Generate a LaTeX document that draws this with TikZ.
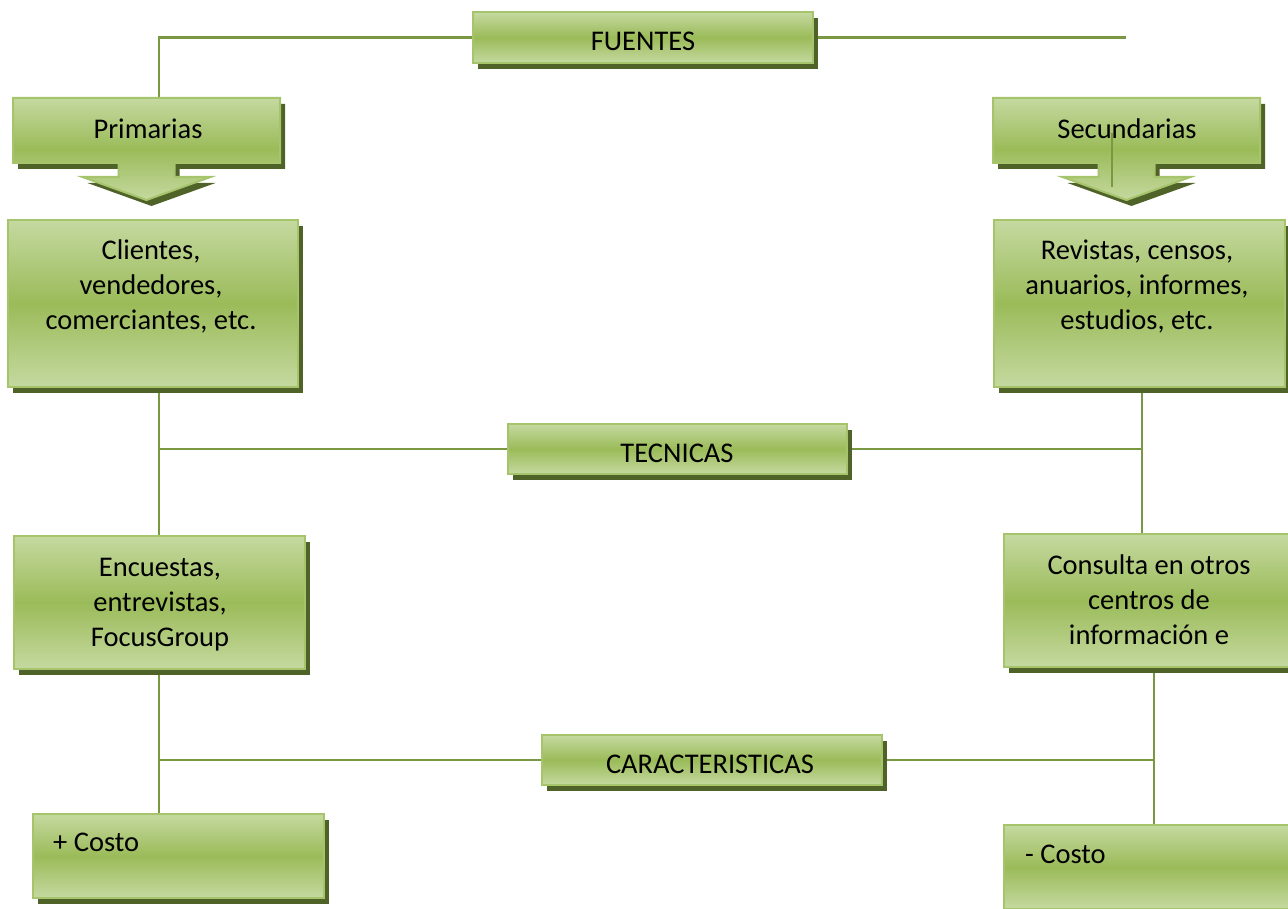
\documentclass[tikz,border=0pt]{standalone}
\usepackage{fontspec}
\setmainfont{Carlito}
\usetikzlibrary{shadows,backgrounds,calc}
\definecolor{gtop}{RGB}{197,217,160}
\definecolor{gmid}{RGB}{155,187,89}
\definecolor{bord}{RGB}{166,196,108}
\definecolor{shcol}{RGB}{79,98,40}
\definecolor{linecol}{RGB}{122,152,66}
\begin{document}
\begin{tikzpicture}[x=1pt,y=-1pt,
  gfill/.style={draw=bord, line width=2pt, top color=gtop, bottom color=gtop, middle color=gmid,
    drop shadow={shadow xshift=5pt, shadow yshift=-6pt, opacity=1, fill=shcol}},
  gbox/.style={gfill, inner sep=0pt, anchor=north west},
  txt/.style={font=\fontsize{28.5}{35}\selectfont, align=center, inner sep=0pt, anchor=north, text=black},
  conn/.style={draw=linecol, line width=2.2pt},
  thin/.style={draw=linecol, line width=1.5pt}
]
\useasboundingbox (0,0) rectangle (1288,909);
\clip (0,0) rectangle (1288,909);

% helper coordinates for vertical connector columns
\coordinate (lx) at (159,0);
\coordinate (rx) at (1142,0);
\coordinate (rx2) at (1154,0);
\coordinate (fr) at (1126,36.5);

% boxes
\node[gbox, minimum width=340pt, minimum height=51pt] (fuentes) at (472,11) {};
\node[gbox, minimum width=290pt, minimum height=167pt] (cli) at (7,219) {};
\node[gbox, minimum width=291pt, minimum height=167pt] (rev) at (993,219) {};
\node[gbox, minimum width=339pt, minimum height=50pt] (tec) at (507,423) {};
\node[gbox, minimum width=291pt, minimum height=133pt] (enc) at (13,535) {};
\node[gbox, minimum width=290pt, minimum height=133pt] (con) at (1003,533) {};
\node[gbox, minimum width=340pt, minimum height=50pt] (car) at (541,734) {};
\node[gbox, minimum width=291pt, minimum height=84pt] (mas) at (32,813) {};
\node[gbox, minimum width=291pt, minimum height=84pt] (menos) at (1003,824) {};

% callout arrows
\path[gfill] (13,98) -- (280,98) -- (280,163) -- (174.5,163) -- (174.5,177) -- (210.5,177)
  -- (146.5,200) -- (82.5,177) -- (118.5,177) -- (118.5,163) -- (13,163) -- cycle;
\node[inner sep=0pt, minimum width=267pt, minimum height=65pt, anchor=north west] (prim) at (13,98) {};
\path[gfill] (993,98) -- (1260,98) -- (1260,163) -- (1154.5,163) -- (1154.5,177) -- (1190.5,177)
  -- (1126.5,200) -- (1062.5,177) -- (1098.5,177) -- (1098.5,163) -- (993,163) -- cycle;
\node[inner sep=0pt, minimum width=267pt, minimum height=65pt, anchor=north west] (sec) at (993,98) {};

% texts
\node[txt] (tfu) at (643,25.5) {\strut FUENTES};
\node[txt] (tprim) at (148,113.5) {\strut Primarias};
\node[txt] (tsec) at (1127,113.5) {\strut Secundarias};
\node[txt] (tcli) at (151,234.5) {\strut Clientes,\\vendedores,\\comerciantes, etc.};
\node[txt] (trev) at (1137,234.5) {\strut Revistas, censos,\\anuarios, informes,\\estudios, etc.};
\node[txt] (ttec) at (677,437.5) {\strut TECNICAS};
\node[txt] (tenc) at (160,551.5) {\strut Encuestas,\\entrevistas,\\FocusGroup};
\node[txt] (tcon) at (1149,549.5) {\strut Consulta en otros\\centros de\\información e};
\node[txt] (tcar) at (710,749) {\strut CARACTERISTICAS};
\node[txt, anchor=north west] (tmas) at (53,827.2) {\strut + Costo};
\node[txt, anchor=north west] (tmenos) at (1025,838.5) {\strut - Costo};

% stray line inside Secundarias
\coordinate (sa) at (1112,133);
\coordinate (sb) at (1112,187);
\draw[thin] (sa) -- (sb);

% connectors
\begin{scope}[on background layer]
\draw[conn] (fuentes.west) -| (lx |- prim.north);
\draw[conn] (fuentes.east) -- (fuentes.east -| fr);
\draw[conn] (lx |- cli.south) -- (lx |- enc.north);
\draw[conn] (tec.west) -- (lx |- tec.west);
\draw[conn] (rx |- rev.south) -- (rx |- con.north);
\draw[conn] (tec.east) -- (rx |- tec.east);
\draw[conn] (lx |- enc.south) -- (lx |- mas.north);
\draw[conn] (car.west) -- (lx |- car.west);
\draw[conn] (rx2 |- con.south) -- (rx2 |- menos.north);
\draw[conn] (car.east) -- (rx2 |- car.east);
\end{scope}
\end{tikzpicture}
\end{document}
